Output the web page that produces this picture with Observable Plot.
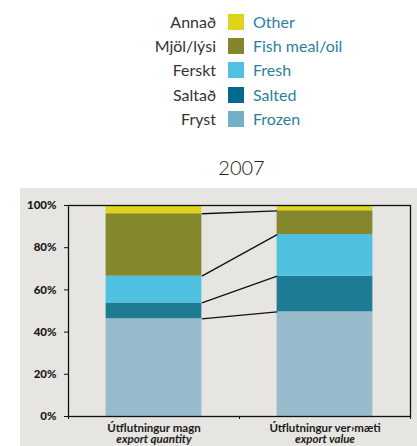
<!DOCTYPE html>
<html>
<head>
<meta charset="utf-8">
<script src="https://cdn.jsdelivr.net/npm/d3@7"></script>
<script src="https://cdn.jsdelivr.net/npm/@observablehq/plot@0.6"></script>
<style>
  html, body { margin: 0; padding: 0; background: #ffffff; }
  body { width: 417px; height: 446px; position: relative; overflow: hidden; font-family: Lato, "Open Sans", sans-serif; }
  #legend { position: absolute; left: 0; top: 0; width: 417px; }
  .is { position: absolute; right: 201px; width: 120px; text-align: right; color: #333; font-size: 16px; line-height: 16px; }
  .sw { position: absolute; left: 228px; width: 16px; height: 16px; }
  .en { position: absolute; left: 253px; color: #2b7f9d; font-size: 16px; line-height: 16px; white-space: nowrap; }
  #title { position: absolute; left: 0; width: 483px; top: 156px; text-align: center; font-size: 20px; font-weight: 300; color: #222; line-height: 22px; }
  #chart { position: absolute; left: 20px; top: 188px; }
  #chart svg g[aria-label="y-axis tick label"] text { font-weight: 900; }
</style>
</head>
<body>
<div id="legend"></div>
<div id="title">2007</div>
<div id="chart"></div>
<script>
// ---- data ----
const categoriesEn = ["Frozen", "Salted", "Fresh", "Fish meal/oil", "Other"];
const categoriesIs = ["Fryst", "Saltað", "Ferskt", "Mjöl/lýsi", "Annað"];
const barColors = ["#97bbcb", "#1e7b94", "#4fc1e0", "#85872c", "#e0d31b"];
const legendColors = ["#74afca", "#006b8f", "#4fc2e2", "#85862c", "#e0d41a"];
const quantityShare = [46.3, 7.5, 12.7, 29.6, 3.9];
const valueShare = [49.6, 16.9, 19.7, 11.3, 2.5];
const barLabelsIs = ["Útflutningur magn", "Útflutningur ver›mæti"];
const barLabelsEn = ["export quantity", "export value"];
const yTicks = [0, 20, 40, 60, 80, 100];

// ---- legend (HTML) ----
const legend = document.getElementById("legend");
const order = [4, 3, 2, 1, 0];
order.forEach((k, r) => {
  const top = 14 + r * 24.2;
  legend.insertAdjacentHTML("beforeend",
    `<div class="is" style="top:${top}px">${categoriesIs[k]}</div>` +
    `<div class="sw" style="top:${top}px;background:${legendColors[k]}"></div>` +
    `<div class="en" style="top:${top}px">${categoriesEn[k]}</div>`);
});

// ---- build table ----
const series = [quantityShare, valueShare];
const cums = series.map(s => Array.from(d3.cumsum(s)));
const inset = 0.22;
const rects = [];
series.forEach((s, i) => {
  s.forEach((v, k) => {
    rects.push({bar: i, cat: categoriesEn[k], y1: cums[i][k] - v, y2: cums[i][k], color: barColors[k]});
  });
});
const links = d3.range(categoriesEn.length - 1).map(k => ({y1: cums[0][k], y2: cums[1][k]}));
const labels = barLabelsIs.map((t, i) => ({pos: i + 0.5, is: t, en: barLabelsEn[i]}));

const plot = Plot.plot({
  width: 397,
  height: 258,
  marginLeft: 48,
  marginRight: 7,
  marginTop: 17,
  marginBottom: 30,
  style: {background: "#e6e5e1", fontFamily: "Lato, 'Open Sans', sans-serif", fontSize: "11px", fontWeight: "bold", color: "#1a1a1a"},
  x: {type: "linear", domain: [0, 2]},
  y: {domain: [0, 100]},
  marks: [
    Plot.rect(rects, {x1: d => d.bar + inset, x2: d => d.bar + 1 - inset, y1: "y1", y2: "y2", fill: "color"}),
    Plot.link(links, {x1: 1 - inset, x2: 1 + inset, y1: "y1", y2: "y2", stroke: "#111", strokeWidth: 1.3}),
    Plot.frame({stroke: "#111", strokeWidth: 1.3}),
    Plot.axisY({ticks: yTicks, tickFormat: d => d + "%", tickSize: 4, tickPadding: 8, stroke: "#111", label: null, fontSize: 11.5}),
    Plot.axisX({ticks: [0, 1, 2], tickFormat: () => "", tickSize: 3, stroke: "#111", label: null}),
    Plot.text(labels, {x: "pos", frameAnchor: "bottom", text: "is", lineAnchor: "bottom", dy: 15, fontSize: 11.5, fontWeight: "bold", fill: "#1a1a1a"}),
    Plot.text(labels, {x: "pos", frameAnchor: "bottom", text: "en", lineAnchor: "bottom", dy: 26.5, fontSize: 11.5, fontWeight: "bold", fontStyle: "italic", fill: "#1a1a1a"})
  ]
});
document.getElementById("chart").appendChild(plot);
</script>
</body>
</html>
